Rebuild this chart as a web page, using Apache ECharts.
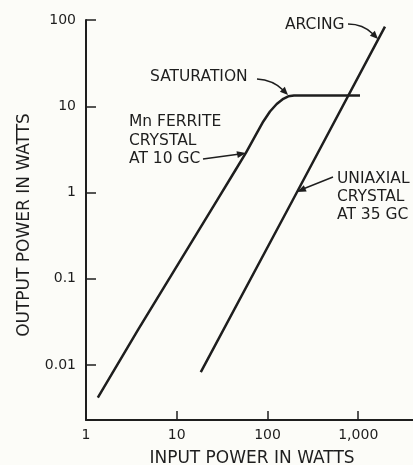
<!DOCTYPE html>
<html>
<head>
<meta charset="utf-8">
<script src="https://cdn.jsdelivr.net/npm/echarts@6/dist/echarts.min.js"></script>
<style>
html,body{margin:0;padding:0;background:#fcfcf8;}
#chart{width:413px;height:465px;}
</style>
</head>
<body>
<div id="chart"></div>
<script>
// ---- data ----
const xTicks = [1, 10, 100, 1000];
const xTickLabels = ['1', '10', '100', '1,000'];
const yTicks = [0.01, 0.1, 1, 10, 100];
const yTickLabels = ['0.01', '0.1', '1', '10', '100'];

const mnFerriteX = [1.35, 3.74, 28, 43.9, 58, 72.8, 89.9, 106.5, 126.3, 149.3, 169.5, 195.9, 1045];
const mnFerriteY = [0.0042, 0.0256, 0.821, 1.79, 2.90, 4.47, 6.67, 8.70, 10.63, 12.22, 13.06, 13.34, 13.34];

const uniaxialX = [18.4, 190, 1970];
const uniaxialY = [0.0083, 0.82, 83.6];

const xTitle = 'INPUT POWER IN WATTS';
const yTitle = 'OUTPUT POWER IN WATTS';

// ---- build ----
const ink = '#1e1e1e';
const font = 'DejaVu Sans';

function pairs(xs, ys) { return xs.map((x, i) => [x, ys[i]]); }
function labelFor(ticks, labels) {
  return function (v) {
    for (let i = 0; i < ticks.length; i++) {
      if (Math.abs(Math.log10(v) - Math.log10(ticks[i])) < 1e-6) return labels[i];
    }
    return '';
  };
}
function head(tip, from, len, w) {
  const dx = tip[0] - from[0], dy = tip[1] - from[1];
  const d = Math.hypot(dx, dy), ux = dx / d, uy = dy / d;
  const bx = tip[0] - ux * len, by = tip[1] - uy * len;
  return {
    type: 'polygon',
    shape: { points: [tip, [bx - uy * w, by + ux * w], [bx + uy * w, by - ux * w]] },
    style: { fill: ink }
  };
}
const annStyle = { fill: ink, font: '15.5px "' + font + '"', textVerticalAlign: 'middle' };
function txt(s, x, y) {
  return { type: 'text', x: x, y: y, style: Object.assign({ text: s }, annStyle) };
}

const chart = echarts.init(document.getElementById('chart'));
chart.setOption({
  backgroundColor: '#fcfcf8',
  animation: false,
  grid: { left: 86, top: 20, bottom: 45, right: -36, containLabel: false, outerBoundsMode: 'none' },
  xAxis: {
    type: 'log', logBase: 10, min: 1, max: 10000,
    axisLine: { lineStyle: { color: ink, width: 2 } },
    axisTick: { inside: true, length: 9, lineStyle: { color: ink, width: 1.5 } },
    axisLabel: { color: ink, fontSize: 14, fontFamily: font, margin: 8,
      formatter: labelFor(xTicks, xTickLabels) },
    splitLine: { show: false }, minorTick: { show: false }
  },
  yAxis: {
    type: 'log', logBase: 10, min: 0.00231, max: 100,
    axisLine: { lineStyle: { color: ink, width: 2 } },
    axisTick: { inside: true, length: 10, lineStyle: { color: ink, width: 1.5 } },
    axisLabel: { color: ink, fontSize: 14, fontFamily: font, margin: 10,
      formatter: labelFor(yTicks, yTickLabels) },
    splitLine: { show: false }, minorTick: { show: false }
  },
  series: [
    { type: 'line', name: 'Mn ferrite crystal at 10 GC', data: pairs(mnFerriteX, mnFerriteY),
      showSymbol: false, smooth: false,
      lineStyle: { color: ink, width: 2.5, join: 'round' } },
    { type: 'line', name: 'Uniaxial crystal at 35 GC', data: pairs(uniaxialX, uniaxialY),
      showSymbol: false, lineStyle: { color: ink, width: 2.5 } }
  ],
  graphic: [
    // axis titles
    { type: 'text', x: 252, y: 459, style: { text: xTitle, fill: ink, font: '17px "' + font + '"', textAlign: 'center', textVerticalAlign: 'middle' } },
    { type: 'text', x: 25, y: 225, rotation: Math.PI / 2, style: { text: yTitle, fill: ink, font: '17px "' + font + '"', textAlign: 'center', textVerticalAlign: 'middle' } },
    // ARCING
    txt('ARCING', 285, 25),
    { type: 'bezierCurve', shape: { x1: 348, y1: 24, cpx1: 363, cpy1: 24, x2: 373, y2: 34 }, style: { stroke: ink, lineWidth: 1.5, fill: null } },
    head([378, 39], [371, 32], 8, 3.5),
    // SATURATION
    txt('SATURATION', 150, 77),
    { type: 'bezierCurve', shape: { x1: 257, y1: 79, cpx1: 273, cpy1: 80, x2: 283, y2: 90 }, style: { stroke: ink, lineWidth: 1.5, fill: null } },
    head([288, 95], [281, 88], 8, 3.5),
    // Mn ferrite
    txt('Mn FERRITE', 129, 122),
    txt('CRYSTAL', 129, 141),
    txt('AT 10 GC', 129, 159),
    { type: 'line', shape: { x1: 203, y1: 159, x2: 240, y2: 154 }, style: { stroke: ink, lineWidth: 1.5 } },
    head([246, 153], [238, 154.5], 9, 3.5),
    // Uniaxial
    txt('UNIAXIAL', 337, 179),
    txt('CRYSTAL', 337, 197),
    txt('AT 35 GC', 337, 215),
    { type: 'line', shape: { x1: 333, y1: 177, x2: 303, y2: 189 }, style: { stroke: ink, lineWidth: 1.5 } },
    head([297, 192], [305, 188.5], 9, 3.5)
  ]
});
</script>
</body>
</html>
